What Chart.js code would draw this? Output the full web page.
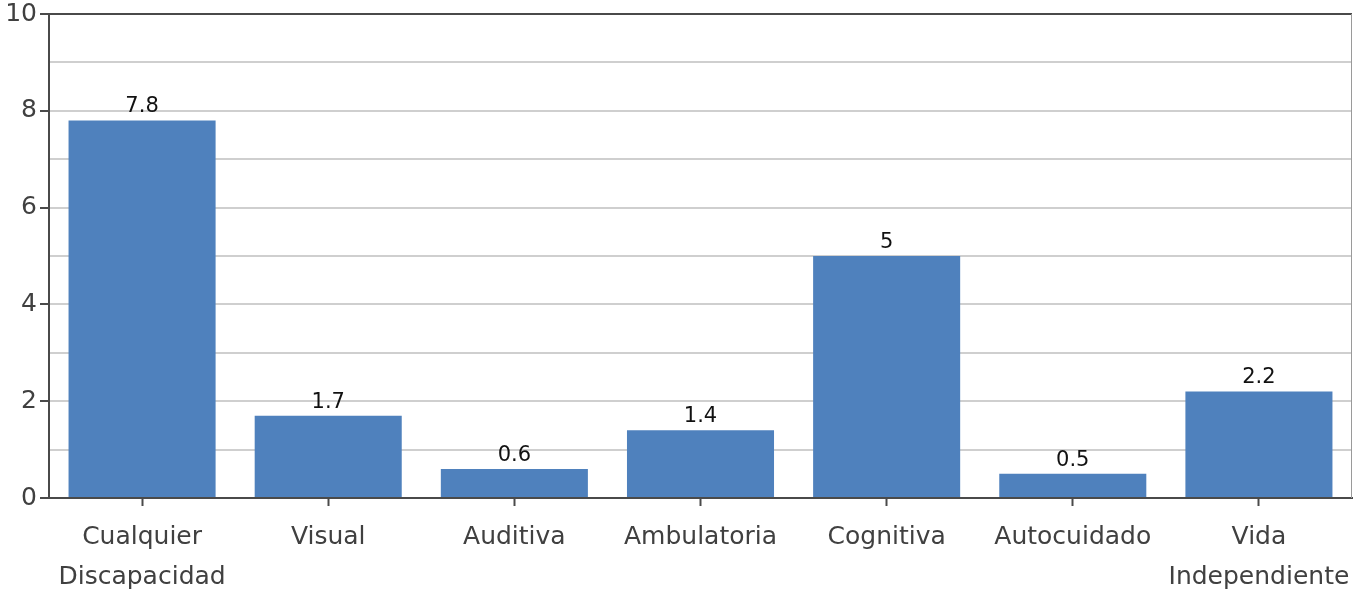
<!DOCTYPE html>
<html><head><meta charset="utf-8">
<script src="https://cdn.jsdelivr.net/npm/chart.js@4.4.1/dist/chart.umd.min.js"></script>
<style>html,body{margin:0;padding:0;background:#fff;}#wrap{width:1353px;height:592px;}</style>
</head><body><div id="wrap"><canvas id="c" width="1353" height="592"></canvas></div>
<script>
const categories = [["Cualquier","Discapacidad"],"Visual","Auditiva","Ambulatoria","Cognitiva","Autocuidado",["Vida","Independiente"]];
const values = [7.8, 1.7, 0.6, 1.4, 5, 0.5, 2.2];
const yMin = 0, yMax = 10, yStep = 1;

const frame = {
  id: 'frame',
  afterDraw(chart) {
    const {ctx, chartArea: a} = chart;
    ctx.save();
    ctx.strokeStyle = '#4a4a4a'; ctx.lineWidth = 2;
    ctx.beginPath(); ctx.moveTo(a.left, a.top); ctx.lineTo(a.right, a.top); ctx.stroke();
    ctx.strokeStyle = '#9a9a9a'; ctx.lineWidth = 1;
    ctx.beginPath(); ctx.moveTo(a.right - 0.5, a.top); ctx.lineTo(a.right - 0.5, a.bottom); ctx.stroke();
    // value labels
    ctx.fillStyle = '#111'; ctx.font = '21px "DejaVu Sans"';
    ctx.textAlign = 'center'; ctx.textBaseline = 'bottom';
    chart.getDatasetMeta(0).data.forEach((bar, i) => {
      ctx.fillText(String(values[i]), bar.x, bar.y - 3);
    });
    ctx.restore();
  }
};

new Chart(document.getElementById('c'), {
  type: 'bar',
  data: { labels: categories, datasets: [{ data: values, backgroundColor: '#4f81bd', barPercentage: 0.79, categoryPercentage: 1 }] },
  options: {
    responsive: false, animation: false, devicePixelRatio: 1,
    layout: { padding: { top: 14, right: 1, left: 0, bottom: 0 } },
    plugins: { legend: { display: false }, tooltip: { enabled: false } },
    scales: {
      x: {
        grid: { display: true, drawOnChartArea: false, offset: false, tickLength: 8, tickColor: '#4a4a4a', tickWidth: 2 },
        border: { color: '#4a4a4a', width: 2 },
        ticks: { color: '#404040', font: { family: 'DejaVu Sans', size: 25, lineHeight: 1.6 }, padding: 11, maxRotation: 0, autoSkip: false },
        afterFit(s) { s.height = 94; s.paddingLeft = 0; s.paddingRight = 0; }
      },
      y: {
        min: yMin, max: yMax,
        grid: { color: ctx => ctx.tick && ctx.tick.value === yMax ? 'rgba(0,0,0,0)' : '#cfcfcf', lineWidth: 2, tickLength: 9,
                tickColor: ctx => ctx.tick && ctx.tick.value % 2 === 0 ? '#4a4a4a' : 'rgba(0,0,0,0)', tickWidth: 2 },
        border: { color: '#4a4a4a', width: 2 },
        ticks: { stepSize: yStep, color: '#404040', font: { family: 'DejaVu Sans', size: 25 }, padding: 3,
                 callback: v => v % 2 === 0 ? String(v) : '' },
        afterFit(s) { s.width = 49; s.paddingTop = 0; s.paddingBottom = 0; }
      }
    }
  },
  plugins: [frame]
});
</script></body></html>
